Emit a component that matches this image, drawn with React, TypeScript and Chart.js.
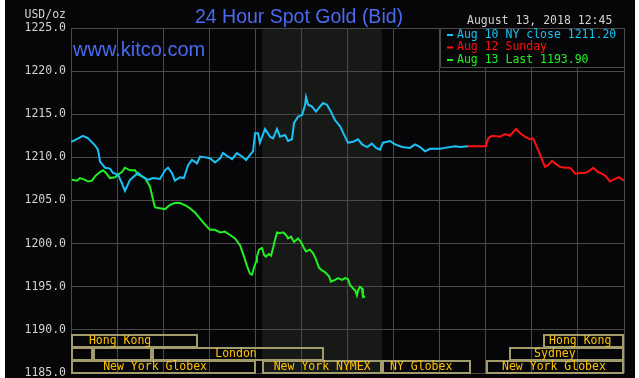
import React, { useEffect, useRef } from "react";
import { Chart, registerables } from "chart.js";

Chart.register(...registerables);

// ---- DATA ----
// x values are hours into the 24-hour window, y values are USD/oz bids
const friHours = [0, 0.17, 0.52, 0.74, 1.04, 1.17, 1.26, 1.48, 1.69, 1.82, 2.04, 2.21, 2.34, 2.56, 2.69, 2.91, 3.13, 3.34, 3.56, 3.86, 4.08, 4.21, 4.38, 4.51, 4.73, 4.9, 5.08, 5.25, 5.47, 5.6, 5.82, 6.03, 6.25, 6.47, 6.6, 6.81, 6.99, 7.2, 7.42, 7.6, 7.77, 7.9, 7.99, 8.12, 8.2, 8.42, 8.64, 8.77, 8.94, 9.07, 9.29, 9.42, 9.59, 9.68, 9.85, 10.03, 10.16, 10.2, 10.29, 10.46, 10.63, 10.81, 10.94, 11.11, 11.28, 11.46, 11.68, 11.89, 12.02, 12.24, 12.46, 12.63, 12.85, 13.06, 13.24, 13.41, 13.54, 13.85, 14.06, 14.37, 14.71, 14.93, 15.15, 15.36, 15.58, 16.02, 16.23, 16.67, 16.88, 17.23];
const friPrices = [1211.8, 1212.0, 1212.5, 1212.2, 1211.4, 1210.9, 1209.5, 1208.8, 1208.7, 1208.2, 1208.0, 1207.0, 1206.1, 1207.4, 1207.7, 1208.2, 1207.7, 1207.4, 1207.6, 1207.5, 1208.5, 1208.8, 1208.2, 1207.3, 1207.7, 1207.6, 1209.1, 1209.7, 1209.3, 1210.1, 1210.0, 1209.9, 1209.4, 1209.9, 1210.5, 1210.1, 1209.8, 1210.5, 1210.1, 1209.7, 1210.3, 1210.7, 1212.8, 1212.8, 1211.7, 1213.3, 1212.4, 1212.2, 1213.3, 1212.4, 1212.6, 1211.9, 1212.1, 1214.0, 1214.7, 1214.9, 1216.1, 1217.0, 1216.1, 1215.9, 1215.3, 1215.9, 1216.3, 1216.1, 1215.3, 1214.3, 1213.6, 1212.4, 1211.7, 1211.8, 1212.1, 1211.5, 1211.2, 1211.6, 1211.1, 1210.9, 1211.7, 1211.9, 1211.5, 1211.2, 1211.1, 1211.5, 1211.2, 1210.7, 1211.0, 1211.0, 1211.1, 1211.3, 1211.2, 1211.3];

const sunHours = [17.23, 18.01, 18.1, 18.27, 18.62, 18.84, 19.05, 19.31, 19.49, 19.7, 19.92, 20.05, 20.14, 20.36, 20.57, 20.7, 20.88, 21.01, 21.22, 21.44, 21.66, 21.88, 22.09, 22.31, 22.53, 22.66, 22.87, 23.05, 23.22, 23.39, 23.61, 23.78, 24.0];
const sunPrices = [1211.3, 1211.3, 1212.2, 1212.5, 1212.4, 1212.7, 1212.5, 1213.3, 1212.8, 1212.4, 1212.1, 1212.2, 1211.7, 1210.3, 1208.9, 1209.1, 1209.6, 1209.3, 1208.9, 1208.8, 1208.8, 1208.1, 1208.2, 1208.2, 1208.5, 1208.8, 1208.3, 1208.1, 1207.8, 1207.2, 1207.5, 1207.7, 1207.3];

const monHours = [0.04, 0.26, 0.39, 0.61, 0.74, 0.91, 1.04, 1.26, 1.39, 1.52, 1.69, 1.91, 2.04, 2.21, 2.34, 2.56, 2.78, 2.91, 3.08, 3.21, 3.3, 3.43, 3.56, 3.65, 3.86, 4.08, 4.3, 4.51, 4.73, 4.99, 5.16, 5.38, 5.6, 5.82, 6.03, 6.25, 6.47, 6.68, 6.9, 7.12, 7.34, 7.51, 7.64, 7.77, 7.86, 7.94, 8.03, 8.07, 8.16, 8.29, 8.38, 8.46, 8.59, 8.68, 8.77, 8.85, 8.94, 9.07, 9.2, 9.33, 9.42, 9.55, 9.68, 9.85, 9.98, 10.11, 10.2, 10.37, 10.5, 10.63, 10.76, 10.89, 11.02, 11.2, 11.28, 11.46, 11.59, 11.76, 11.89, 12.02, 12.11, 12.24, 12.33, 12.41, 12.46, 12.54, 12.63, 12.67, 12.76];
const monPrices = [1207.4, 1207.3, 1207.6, 1207.4, 1207.2, 1207.3, 1207.8, 1208.3, 1208.5, 1208.2, 1207.6, 1207.7, 1208.0, 1208.3, 1208.8, 1208.5, 1208.5, 1208.0, 1207.8, 1207.6, 1207.2, 1206.6, 1205.1, 1204.2, 1204.1, 1204.0, 1204.5, 1204.7, 1204.7, 1204.4, 1204.1, 1203.6, 1202.9, 1202.2, 1201.6, 1201.6, 1201.3, 1201.4, 1201.0, 1200.6, 1199.8, 1198.5, 1197.4, 1196.5, 1196.4, 1197.2, 1197.9, 1198.5, 1199.3, 1199.5, 1198.7, 1198.5, 1198.8, 1198.6, 1199.5, 1200.4, 1201.3, 1201.2, 1201.3, 1201.0, 1200.6, 1200.8, 1200.2, 1200.6, 1200.2, 1199.5, 1199.1, 1199.3, 1198.9, 1198.2, 1197.2, 1196.9, 1196.7, 1196.2, 1195.6, 1195.8, 1196.0, 1195.8, 1196.0, 1195.9, 1195.2, 1194.8, 1194.6, 1194.0, 1194.6, 1195.0, 1194.8, 1193.8, 1193.9];

const seriesLabels = ["Aug 10 NY close 1211.20", "Aug 12 Sunday", "Aug 13 Last 1193.90"];
const titleText = "24 Hour Spot Gold (Bid)";
const dateText = "August 13, 2018 12:45";
const unitText = "USD/oz";
const siteText = "www.kitco.com";

const yMin = 1185;
const yMax = 1225;
const yStep = 5;
const hourMax = 24;
const hourStep = 2;

// NYMEX floor session shading (hours)
const shadeStart = 8.3;
const shadeEnd = 13.5;
// legend box spans these hours
const legendFrom = 16;

// market session bars
const sessionRow = [1, 1, 2, 2, 2, 2, 3, 3, 3, 3];
const sessionStart = [0, 20.5, 0, 0.95, 3.5, 19, 0, 8.3, 13.5, 18];
const sessionEnd = [5.5, 24, 0.95, 3.5, 11, 24, 8.05, 13.5, 17.35, 24];
const sessionLabel = ["Hong Kong", "Hong Kong", "", "", "London", "Sydney", "New York Globex", "New York NYMEX", "NY Globex", "New York Globex"];
const sessionLabelAt = [2.13, 22.1, 0, 0, 7.16, 21.0, 3.65, 10.9, 15.2, 20.96];

// ---- STYLE ----
const BG = "#060608";
const GRID = "#4a4a4a";
const SHADE = "#171917";
const COLORS = ["#19c3f5", "#ff1010", "#22f022"];
const MONO = "'DejaVu Sans Mono', monospace";
const SANS = "'Liberation Sans', Arial, sans-serif";

const toPts = (xs: number[], ys: number[]) => xs.map((x, i) => ({ x, y: ys[i] }));

const decorPlugin = {
  id: "kitcoDecor",
  beforeDraw(chart: any) {
    const { ctx, chartArea, scales } = chart;
    ctx.save();
    ctx.fillStyle = BG;
    ctx.fillRect(5, 0, 630, chart.height);
    const x0 = scales.x.getPixelForValue(shadeStart);
    const x1 = scales.x.getPixelForValue(shadeEnd);
    ctx.fillStyle = SHADE;
    ctx.fillRect(x0, chartArea.top, x1 - x0, chartArea.bottom - chartArea.top);
    ctx.restore();
  },
  afterDatasetsDraw(chart: any) {
    const { ctx, chartArea, scales } = chart;
    const xs = scales.x;
    ctx.save();

    // title + header texts
    ctx.fillStyle = "#4a6af0";
    ctx.font = `19.5px ${SANS}`;
    ctx.textAlign = "center";
    ctx.textBaseline = "alphabetic";
    ctx.fillText(titleText, 299, 23);

    ctx.font = `20px ${SANS}`;
    ctx.textAlign = "left";
    ctx.fillText(siteText, 73, 56);

    ctx.fillStyle = "#d2d2d2";
    ctx.font = `11.5px ${MONO}`;
    ctx.textBaseline = "middle";
    ctx.textAlign = "left";
    ctx.fillText(dateText, 467, 21.5);
    ctx.textAlign = "right";
    ctx.fillText(unitText, 66, 15);

    // legend box
    const lx = Math.round(xs.getPixelForValue(legendFrom));
    const rx = Math.round(xs.getPixelForValue(hourMax));
    const ty = chartArea.top;
    const by = chartArea.top + 39;
    ctx.fillStyle = BG;
    ctx.fillRect(lx, ty, rx - lx, by - ty);
    ctx.strokeStyle = GRID;
    ctx.lineWidth = 1;
    ctx.strokeRect(lx + 0.5, ty + 0.5, rx - lx, by - ty);
    ctx.font = `11.5px ${MONO}`;
    ctx.textAlign = "left";
    ctx.textBaseline = "middle";
    seriesLabels.forEach((lab, i) => {
      const yy = ty + 7 + i * 12.5;
      ctx.fillStyle = COLORS[i];
      ctx.fillRect(lx + 7, yy - 1, 6, 2);
      ctx.fillText(lab, lx + 17, yy);
    });

    // session bars
    const rowH = 13;
    ctx.lineWidth = 2;
    ctx.strokeStyle = "#a29c6c";
    for (let i = 0; i < sessionRow.length; i++) {
      const rowTop = chartArea.bottom - (4 - sessionRow[i]) * rowH;
      const a = Math.round(xs.getPixelForValue(sessionStart[i]));
      const b = Math.round(xs.getPixelForValue(sessionEnd[i]));
      ctx.strokeRect(a + 1, rowTop + 1, b - a - 2, rowH - 1);
    }
    ctx.fillStyle = "#ffc400";
    ctx.font = `11.5px ${MONO}`;
    ctx.textAlign = "center";
    ctx.textBaseline = "middle";
    for (let i = 0; i < sessionRow.length; i++) {
      if (!sessionLabel[i]) continue;
      const rowTop = chartArea.bottom - (4 - sessionRow[i]) * rowH;
      ctx.fillText(sessionLabel[i], xs.getPixelForValue(sessionLabelAt[i]), rowTop + rowH / 2 + 0.5);
    }
    ctx.restore();
  },
};

export default function App() {
  const ref = useRef<HTMLCanvasElement | null>(null);
  useEffect(() => {
    if (!ref.current) return;
    const chart = new Chart(ref.current, {
      type: "line",
      data: {
        datasets: [
          { label: seriesLabels[0], data: toPts(friHours, friPrices), borderColor: COLORS[0], borderWidth: 2, pointRadius: 0, tension: 0 },
          { label: seriesLabels[1], data: toPts(sunHours, sunPrices), borderColor: COLORS[1], borderWidth: 2, pointRadius: 0, tension: 0 },
          { label: seriesLabels[2], data: toPts(monHours, monPrices), borderColor: COLORS[2], borderWidth: 2, pointRadius: 0, tension: 0 },
        ],
      },
      options: {
        animation: false,
        responsive: false,
        events: [],
        layout: { padding: { left: 0, top: 28, right: 15, bottom: 5 } },
        plugins: { legend: { display: false }, title: { display: false }, tooltip: { enabled: false } },
        scales: {
          x: {
            type: "linear",
            min: 0,
            max: hourMax,
            ticks: { display: false, stepSize: hourStep },
            grid: { color: GRID, drawTicks: false, lineWidth: 1 },
            border: { display: false },
            afterFit: (s: any) => { s.height = 0; s.paddingLeft = 0; s.paddingRight = 0; },
          },
          y: {
            type: "linear",
            min: yMin,
            max: yMax,
            ticks: {
              stepSize: yStep,
              padding: 5,
              color: "#d2d2d2",
              font: { family: MONO, size: 11.5 },
              callback: (v: any) => Number(v).toFixed(1),
            },
            grid: { color: GRID, drawTicks: false, lineWidth: 1 },
            border: { display: true, color: GRID },
            afterFit: (s: any) => { s.width = 71; s.paddingTop = 0; s.paddingBottom = 0; },
          },
        },
      },
      plugins: [decorPlugin],
    } as any);
    return () => chart.destroy();
  }, []);
  return (
    <div style={{ position: "absolute", left: 0, top: 0, width: 639, height: 378, background: "#fff" }}>
      <canvas ref={ref} width={639} height={378} style={{ display: "block" }} />
    </div>
  );
}
